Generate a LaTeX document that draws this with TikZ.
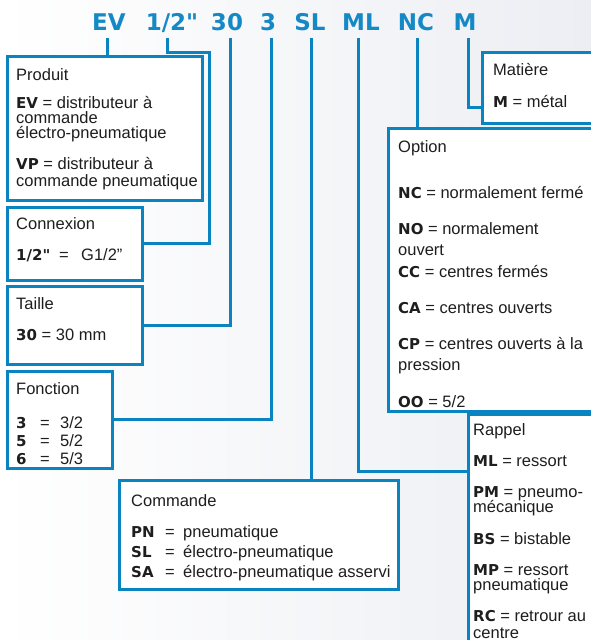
\documentclass[tikz,border=0pt]{standalone}
\usepackage{fontspec}
\setmainfont{Liberation Sans}
\newfontfamily\dv{DejaVu Sans}
\definecolor{bl}{HTML}{0A84C1}
\definecolor{tc}{HTML}{1589C6}
\definecolor{tx}{HTML}{1E1E1E}
\definecolor{bgR}{HTML}{ECEEF3}
\newcommand{\lb}[1]{{\dv\bfseries\fontsize{15}{15}\selectfont #1}}
\tikzset{
  box/.style={draw=bl, fill=white, line width=3pt, inner sep=0pt, outer sep=0pt, anchor=north west},
  conn/.style={draw=bl, line width=3pt},
  ttl/.style={anchor=base, inner sep=0pt, text=tc, font=\dv\bfseries\fontsize{23}{23}\selectfont},
  txt/.style={anchor=base west, inner sep=0pt, text=tx, font=\fontsize{16.5}{15}\selectfont}
}
\begin{document}
\begin{tikzpicture}[x=1pt,y=-1pt]
\clip (0,0) rectangle (591,640);
\shade[left color=white, right color=bgR] (0,0) rectangle (591,640);
% title
\node[ttl] (tEV) at (109,30) {EV};
\node[ttl] (t12) at (172,30) {1/2"};
\node[ttl] (t30) at (227,30) {30};
\node[ttl] (t3) at (268,30) {3};
\node[ttl] (tSL) at (310,30) {SL};
\node[ttl] (tML) at (361,30) {ML};
\node[ttl] (tNC) at (416,30) {NC};
\node[ttl] (tM) at (465,30) {M};
% connector starts
\coordinate (sEV) at (107,38);
\coordinate (s12) at (167,38);
\coordinate (c12) at (209,52);
\coordinate (s30) at (230,38);
\coordinate (s3) at (271,38);
\coordinate (sSL) at (311,38);
\coordinate (sML) at (358,38);
\coordinate (sNC) at (417,38);
\coordinate (sM) at (468,38);
% box frames as named nodes
\path (7,56) node[box, draw=none, fill=none, minimum width=195pt, minimum height=144pt] (produit) {};
\path (7,207) node[box, draw=none, fill=none, minimum width=135pt, minimum height=73pt] (connexion) {};
\path (7,286) node[box, draw=none, fill=none, minimum width=135pt, minimum height=78pt] (taille) {};
\path (7,371) node[box, draw=none, fill=none, minimum width=105pt, minimum height=97pt] (fonction) {};
\path (119,480) node[box, draw=none, fill=none, minimum width=279pt, minimum height=109pt] (commande) {};
\path (482,52) node[box, draw=none, fill=none, minimum width=140pt, minimum height=71pt] (matiere) {};
\path (388,128) node[box, draw=none, fill=none, minimum width=240pt, minimum height=283pt] (option) {};
\path (468,414) node[box, draw=none, fill=none, minimum width=160pt, minimum height=260pt] (rappel) {};
% connectors
\draw[conn] (sEV) -- (sEV |- produit.north);
\draw[conn] (s12) |- (c12) |- (connexion.east);
\draw[conn] (s30) |- (taille.east);
\draw[conn] (s3) |- (fonction.east);
\draw[conn] (sSL) -- (sSL |- commande.north);
\draw[conn] (sML) |- ([yshift=-57pt]rappel.north west);
\draw[conn] (sNC) -- (sNC |- option.north);
\draw[conn] (sM) |- ([yshift=-55pt]matiere.north west);
% drawn boxes
\foreach \b in {produit,connexion,taille,fonction,commande,matiere,option,rappel}{
  \draw[draw=bl, fill=white, line width=3pt] (\b.north west) rectangle (\b.south east);
}
% Produit
\node[txt] (p1) at (16,80) {Produit};
\node[txt] (p2) at (16,108) {\lb{EV} = distributeur à};
\node[txt] (p3) at (16,123) {commande};
\node[txt] (p4) at (16,138) {électro-pneumatique};
\node[txt] (p5) at (16,169) {\lb{VP} = distributeur à};
\node[txt] (p6) at (16,186) {commande pneumatique};
% Connexion
\node[txt] (c1) at (16,229) {Connexion};
\node[txt] (c2) at (16,260) {\lb{1/2"}};
\node[txt] (c3) at (59,260) {=};
\node[txt] (c4) at (81,260) {G1/2"};
% Taille
\node[txt] (ta1) at (16,309) {Taille};
\node[txt] (ta2) at (16,340) {\lb{30} = 30 mm};
% Fonction
\node[txt] (f1) at (16,394) {Fonction};
\node[txt] (f2) at (16,428) {\lb{3}};
\node[txt] (f3) at (40,428) {=};
\node[txt] (f4) at (60,428) {3/2};
\node[txt] (f5) at (16,446) {\lb{5}};
\node[txt] (f6) at (40,446) {=};
\node[txt] (f7) at (60,446) {5/2};
\node[txt] (f8) at (16,464) {\lb{6}};
\node[txt] (f9) at (40,464) {=};
\node[txt] (f10) at (60,464) {5/3};
% Commande
\node[txt] (k1) at (131,506) {Commande};
\node[txt] (k2) at (131,537) {\lb{PN}};
\node[txt] (k3) at (165,537) {=};
\node[txt] (k4) at (183,537) {pneumatique};
\node[txt] (k5) at (131,557) {\lb{SL}};
\node[txt] (k6) at (165,557) {=};
\node[txt] (k7) at (183,557) {électro-pneumatique};
\node[txt] (k8) at (131,577) {\lb{SA}};
\node[txt] (k9) at (165,577) {=};
\node[txt] (k10) at (183,577) {électro-pneumatique asservi};
% Matiere
\node[txt] (m1) at (493,75) {Matière};
\node[txt] (m2) at (493,107) {\lb{M} = métal};
% Option
\node[txt] (o1) at (398,152) {Option};
\node[txt] (o2) at (398,198) {\lb{NC} = normalement fermé};
\node[txt] (o3) at (398,234) {\lb{NO} = normalement};
\node[txt] (o4) at (398,255) {ouvert};
\node[txt] (o5) at (398,277) {\lb{CC} = centres fermés};
\node[txt] (o6) at (398,313) {\lb{CA} = centres ouverts};
\node[txt] (o7) at (398,349) {\lb{CP} = centres ouverts à la};
\node[txt] (o8) at (398,370) {pression};
\node[txt] (o9) at (398,407) {\lb{OO} = 5/2};
% Rappel
\node[txt] (r1) at (473,435) {Rappel};
\node[txt] (r2) at (473,466) {\lb{ML} = ressort};
\node[txt] (r3) at (473,497) {\lb{PM} = pneumo-};
\node[txt] (r4) at (473,512) {mécanique};
\node[txt] (r5) at (473,544) {\lb{BS} = bistable};
\node[txt] (r6) at (473,575) {\lb{MP} = ressort};
\node[txt] (r7) at (473,590) {pneumatique};
\node[txt] (r8) at (473,621) {\lb{RC} = retrour au};
\node[txt] (r9) at (473,638) {centre};
\end{tikzpicture}
\end{document}
